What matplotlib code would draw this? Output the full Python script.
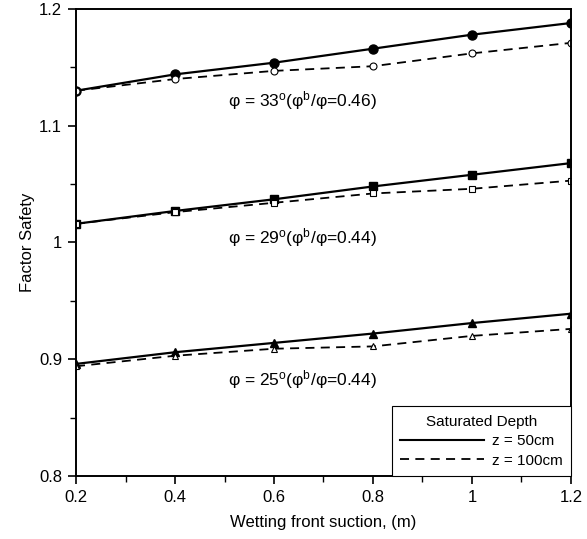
import numpy as np
import matplotlib
matplotlib.use("Agg")
import matplotlib.pyplot as plt
from matplotlib.lines import Line2D
from matplotlib.ticker import MultipleLocator

plt.rcParams['font.family'] = ['Liberation Sans', 'DejaVu Sans']
plt.rcParams['mathtext.default'] = 'regular'

# wetting front suction (m)
suction = [0.2, 0.4, 0.6, 0.8, 1.0, 1.2]

# factor of safety, z = 50cm (solid) and z = 100cm (dashed)
fs33_50 = [1.130, 1.144, 1.154, 1.166, 1.178, 1.188]
fs33_100 = [1.130, 1.140, 1.147, 1.151, 1.162, 1.171]
fs29_50 = [1.016, 1.027, 1.037, 1.048, 1.058, 1.068]
fs29_100 = [1.016, 1.026, 1.034, 1.042, 1.046, 1.053]
fs25_50 = [0.896, 0.906, 0.914, 0.922, 0.931, 0.939]
fs25_100 = [0.894, 0.903, 0.909, 0.911, 0.920, 0.926]

labels = ['φ = 33$^o$(φ$^b$/φ=0.46)',
          'φ = 29$^o$(φ$^b$/φ=0.44)',
          'φ = 25$^o$(φ$^b$/φ=0.44)']

fig = plt.figure(figsize=(5.87, 5.39), dpi=100)
ax = fig.add_axes([0.1295, 0.1169, 0.8432, 0.8664])

dash = (0, (5, 3.5))
# phi = 33
ax.plot(suction, fs33_50, color='k', lw=1.6, marker='o', ms=6.5)
ax.plot(suction, fs33_100, color='k', lw=1.3, ls=dash, marker='o', ms=5,
        mfc='white', mew=0.8)
# phi = 29
ax.plot(suction, fs29_50, color='k', lw=1.6, marker='s', ms=6)
ax.plot(suction, fs29_100, color='k', lw=1.3, ls=dash, marker='s', ms=5,
        mfc='white', mew=0.8)
# phi = 25
ax.plot(suction, fs25_50, color='k', lw=1.6, marker='^', ms=5.5)
ax.plot(suction, fs25_100, color='k', lw=1.3, ls=dash, marker='^', ms=5,
        mfc='white', mew=0.8)

ax.text(0.508, 1.122, labels[0], fontsize=12.5, va='center', ha='left')
ax.text(0.508, 1.0045, labels[1], fontsize=12.5, va='center', ha='left')
ax.text(0.508, 0.8825, labels[2], fontsize=12.5, va='center', ha='left')

ax.set_xlim(0.2, 1.2)
ax.set_ylim(0.8, 1.2)
ax.xaxis.set_minor_locator(MultipleLocator(0.1))
ax.yaxis.set_minor_locator(MultipleLocator(0.05))
ax.set_xticks([0.2, 0.4, 0.6, 0.8, 1.0, 1.2])
ax.set_xticklabels(['0.2', '0.4', '0.6', '0.8', '1', '1.2'])
ax.set_yticks([0.8, 0.9, 1.0, 1.1, 1.2])
ax.set_yticklabels(['0.8', '0.9', '1', '1.1', '1.2'])
ax.tick_params(which='major', direction='out', length=6, width=1.2,
               labelsize=12, pad=4)
ax.tick_params(which='minor', direction='out', length=4, width=1)
for sp in ax.spines.values():
    sp.set_linewidth(1.4)

ax.set_xlabel('Wetting front suction, (m)', fontsize=12, labelpad=7)
ax.set_ylabel('Factor Safety', fontsize=12, labelpad=3)

handles = [Line2D([], [], color='k', lw=1.5),
           Line2D([], [], color='k', lw=1.3, ls=dash)]
leg = ax.legend(handles, ['z = 50cm', 'z = 100cm'], title='Saturated Depth',
                loc='lower right', fontsize=11, title_fontsize=11,
                handlelength=5.5, handletextpad=0.5, borderaxespad=0,
                fancybox=False, framealpha=1, edgecolor='k',
                borderpad=0.55, labelspacing=0.35)
leg.get_frame().set_linewidth(0.8)

fig.savefig('out.png', dpi=100)
